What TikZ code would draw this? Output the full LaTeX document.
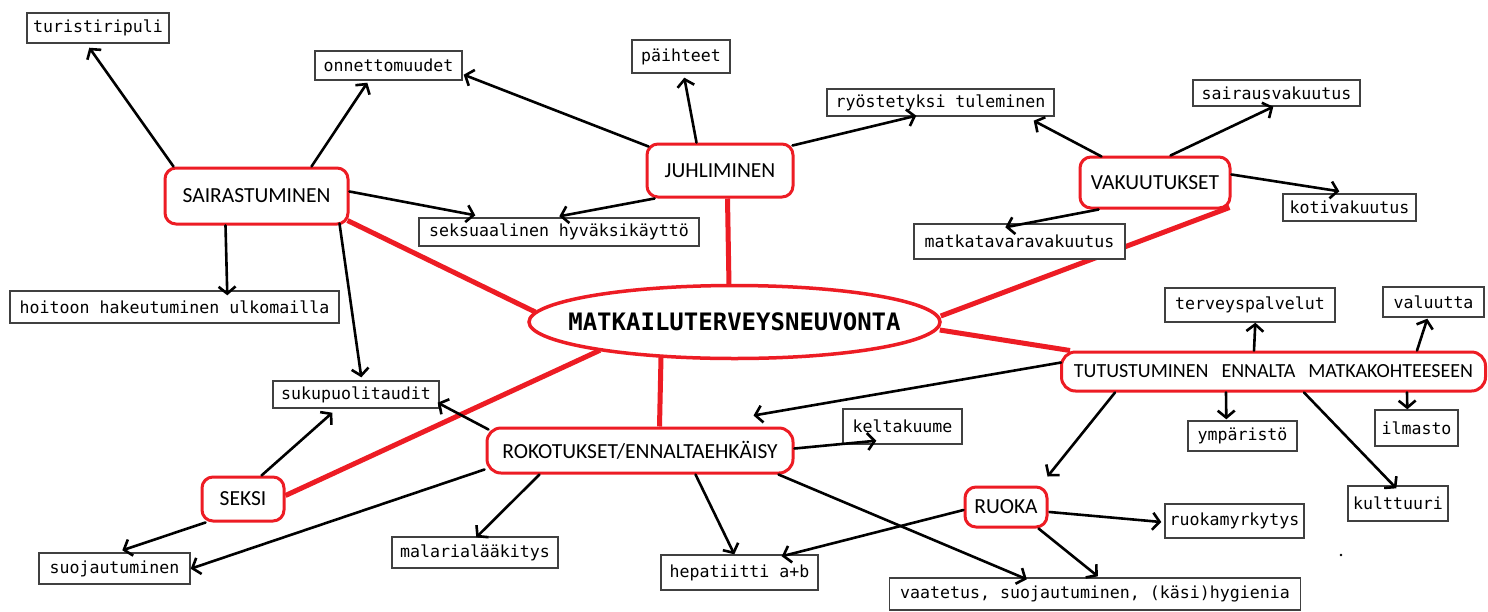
\documentclass[tikz,border=0pt]{standalone}
\usepackage{fontspec}
\usetikzlibrary{arrows.meta,calc,shapes.geometric}
\newfontfamily\monof{DejaVu Sans Mono}
\newfontfamily\hubf{Carlito}
\definecolor{pred}{HTML}{ED1C24}
\definecolor{bordergray}{HTML}{404040}
\pgfdeclarelayer{back}
\pgfdeclarelayer{bg}
\pgfsetlayers{back,bg,main}
\begin{document}
\begin{tikzpicture}[x=1pt,y=-1pt,
  leaf/.style={draw=bordergray, line width=1.4pt, fill=white, inner sep=0pt,
    font={\monof\fontsize{16.6}{20}\selectfont}, text=black},
  hub/.style={draw=pred, line width=3pt, rounded corners=11pt, fill=white, inner sep=0pt,
    font={\hubf\fontsize{21.5}{25}\selectfont}, text=black},
  arr/.style={line width=2.6pt, line cap=round,
    -{Straight Barb[length=7pt,width=17pt]}},
  spoke/.style={draw=pred, line width=5pt},
]
\begin{pgfonlayer}{back}
\fill[white] (0,0) rectangle (1488,611);
\end{pgfonlayer}
\useasboundingbox (0,0) rectangle (1488,611);

% main ellipse
\node[draw=pred, line width=3.5pt, ellipse, fill=white, inner sep=0pt,
  minimum width=411pt, minimum height=73pt] (main) at (734.5,322) {};
\node[inner sep=0pt, font={\monof\bfseries\fontsize{24}{28}\selectfont}] (mainlbl) at (main.center) {MATKAILUTERVEYSNEUVONTA};

% hubs
\node[hub, minimum width=183pt, minimum height=56pt] (sair) at (256.5,196) {SAIRASTUMINEN};
\node[hub, minimum width=146pt, minimum height=53pt] (juhl) at (720,170.5) {JUHLIMINEN};
\node[hub, minimum width=150pt, minimum height=51pt] (vaku) at (1155,182.5) {VAKUUTUKSET};
\node[hub, minimum width=424pt, minimum height=39pt, rounded corners=14pt,
  font={\hubf\fontsize{20}{24}\selectfont}] (tutu) at (1273.5,371.5)
  {\spaceskip=13pt TUTUSTUMINEN ENNALTA MATKAKOHTEESEEN};
\node[hub, minimum width=306pt, minimum height=45pt, rounded corners=14pt] (roko) at (640,450.5) {ROKOTUKSET/ENNALTAEHKÄISY};
\node[hub, minimum width=82pt, minimum height=44pt] (seksi) at (243,499) {SEKSI};
\node[hub, minimum width=82pt, minimum height=40pt] (ruok) at (1006,507) {RUOKA};

% leaves
\node[leaf, minimum width=142pt, minimum height=30pt] (turi) at (98,28) {turistiripuli};
\node[leaf, minimum width=147pt, minimum height=29pt] (onne) at (388.5,65.5) {onnettomuudet};
\node[leaf, minimum width=329pt, minimum height=32pt] (hoit) at (174.5,307) {hoitoon hakeutuminen ulkomailla};
\node[leaf, minimum width=280pt, minimum height=28pt] (seks) at (559,232) {seksuaalinen hyväksikäyttö};
\node[leaf, minimum width=98pt, minimum height=33pt] (paih) at (681,56.5) {päihteet};
\node[leaf, minimum width=227pt, minimum height=27pt] (ryos) at (940.5,102.5) {ryöstetyksi tuleminen};
\node[leaf, minimum width=211pt, minimum height=35pt] (matk) at (1019.5,241.5) {matkatavaravakuutus};
\node[leaf, minimum width=167pt, minimum height=26pt] (sv) at (1276.5,93) {sairausvakuutus};
\node[leaf, minimum width=133pt, minimum height=27pt] (koti) at (1349.5,207.5) {kotivakuutus};
\node[leaf, minimum width=170pt, minimum height=34pt] (terv) at (1250,305) {terveyspalvelut};
\node[leaf, minimum width=101pt, minimum height=30pt] (valu) at (1433.5,302) {valuutta};
\node[leaf, minimum width=109pt, minimum height=30pt] (ymp) at (1242.5,436) {ympäristö};
\node[leaf, minimum width=83pt, minimum height=36pt] (ilma) at (1416.5,428) {ilmasto};
\node[leaf, minimum width=100pt, minimum height=35pt] (kult) at (1398,503.5) {kulttuuri};
\node[leaf, minimum width=139pt, minimum height=34pt] (ruom) at (1234.5,521) {ruokamyrkytys};
\node[leaf, minimum width=411pt, minimum height=32pt] (vaat) at (1095,594) {vaatetus, suojautuminen, (käsi)hygienia};
\node[leaf, minimum width=157pt, minimum height=35pt] (hepa) at (739.5,572.5) {hepatiitti a+b};
\node[leaf, minimum width=119pt, minimum height=35pt] (kelt) at (902.5,426.5) {keltakuume};
\node[leaf, minimum width=166pt, minimum height=31pt] (mala) at (475,552.5) {malarialääkitys};
\node[leaf, minimum width=151pt, minimum height=31pt] (suoj) at (114.5,568.5) {suojautuminen};
\node[leaf, minimum width=166pt, minimum height=27pt] (suku) at (356,394.5) {sukupuolitaudit};

\coordinate (rokin) at ($(roko.north west)+(268,-11)$);

% red spokes (behind nodes)
\begin{pgfonlayer}{bg}
\draw[spoke] ($(sair.south east)+(-2,-5)$) -- ($(main.west)+(8,-10)$);
\draw[spoke] ($(juhl.south west)+(82,0)$) -- ($(main.north)+(-5.5,2)$);
\draw[spoke] ($(vaku.south east)+(-2,-2)$) -- ($(main.east)+(-1,-6)$);
\draw[spoke] ($(main.east)+(-2,8)$) -- ($(tutu.north west)+(10,0)$);
\draw[spoke] ($(roko.north west)+(174,0)$) -- ($(main.south)+(-73.5,-3)$);
\draw[spoke] ($(seksi.north east)+(0,20)$) -- ($(main.south)+(-134.5,-10)$);
\end{pgfonlayer}

% black arrows
\draw[arr] ($(sair.north west)+(10,0)$) -- ($(turi.south west)+(63,4)$);
\draw[arr] ($(sair.north west)+(148,0)$) -- ($(onne.south west)+(53,2)$);
\draw[arr] ($(sair.north east)+(0,25)$) -- ($(seks.north west)+(57,-2)$);
\draw[arr] ($(sair.south west)+(62,0)$) -- ($(hoit.north west)+(218,5)$);
\draw[arr] ($(sair.south east)+(-10,-2)$) -- ($(suku.north west)+(89,-3)$);

\draw[arr] ($(juhl.north west)+(3,4)$) -- ($(onne.south east)+(1,-6)$);
\draw[arr] ($(juhl.north west)+(51,0)$) -- ($(paih.south west)+(53,4)$);
\draw[arr] ($(juhl.north east)+(-2,3)$) -- ($(ryos.south west)+(90,-1)$);
\draw[arr] ($(juhl.south west)+(9,0)$) -- ($(seks.north west)+(141,-1)$);

\draw[arr] ($(vaku.north west)+(23,1)$) -- ($(ryos.south east)+(-21,4)$);
\draw[arr] ($(vaku.north west)+(92,0)$) -- ($(sv.south west)+(81,0)$);
\draw[arr] ($(vaku.north east)+(0,19)$) -- ($(koti.north west)+(57,-2)$);
\draw[arr] ($(vaku.south west)+(20,0)$) -- ($(matk.north west)+(92,4)$);

\draw[arr] ($(tutu.north west)+(194,0)$) -- ($(terv.south west)+(91,0)$);
\draw[arr] ($(tutu.north west)+(357,0)$) -- ($(valu.south west)+(45,1)$);
\draw[arr] ($(tutu.south west)+(166,0)$) -- ($(ymp.north west)+(39,-1)$);
\draw[arr] ($(tutu.south west)+(347,0)$) -- ($(ilma.north west)+(33,0)$);
\draw[arr] ($(tutu.south west)+(244,0)$) -- ($(kult.north west)+(49,3)$);
\draw[arr] ($(tutu.south west)+(55,0)$) -- ($(ruok.north east)+(-1,-9)$);
\draw[arr] ($(tutu.north west)+(1,12)$) -- (rokin);

\draw[arr] ($(roko.north east)+(0,22)$) -- ($(kelt.south west)+(34,-4)$);
\draw[arr] ($(roko.south west)+(210,0)$) -- ($(hepa.north west)+(74,0)$);
\draw[arr] ($(roko.south west)+(54,0)$) -- ($(mala.north west)+(85,1)$);
\draw[arr] ($(roko.south east)+(-16,0)$) -- ($(vaat.north west)+(138,2)$);
\draw[arr] ($(roko.north west)+(3,3)$) -- ($(suku.south east)+(-2,-6)$);
\draw[arr] ($(roko.south west)+(-1,-5)$) -- ($(suoj.south east)+(0,-16)$);

\draw[arr] ($(seksi.north west)+(61,0)$) -- ($(suku.south west)+(60,4)$);
\draw[arr] ($(seksi.south west)+(5,0)$) -- ($(suoj.north west)+(84,-2)$);

\draw[arr] ($(ruok.west)+(0,3)$) -- ($(hepa.north east)+(-37,2)$);
\draw[arr] ($(ruok.east)+(1,5)$) -- ($(ruom.west)+(-3,1)$);
\draw[arr] ($(ruok.south east)+(-10,0)$) -- ($(vaat.north west)+(209,-1)$);

\fill (1341,555) circle (1.4);
\end{tikzpicture}
\end{document}
